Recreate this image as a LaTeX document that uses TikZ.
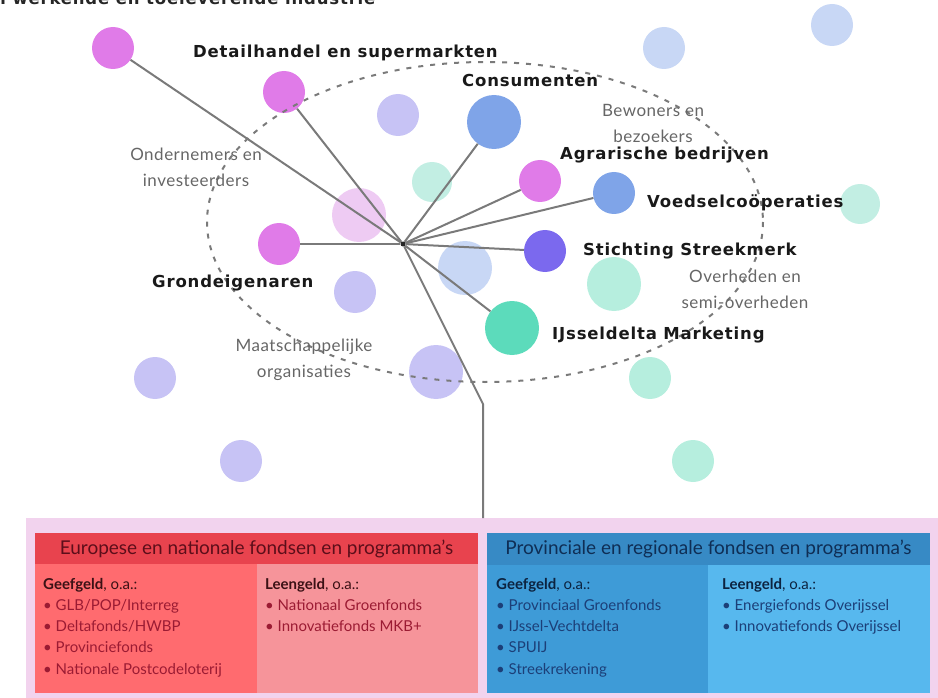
\documentclass[tikz,border=0pt]{standalone}
\usepackage{fontspec}
\setmainfont{Lato}
\newfontfamily\lblfont{DejaVu Sans}[LetterSpace=5]
\newfontfamily\grpfont{Lato}[LetterSpace=3]
\definecolor{cMag}{HTML}{E07BE8}
\definecolor{cLav}{HTML}{C7C3F5}
\definecolor{cBlue}{HTML}{7FA4E8}
\definecolor{cPaleBlue}{HTML}{C8D7F5}
\definecolor{cMintPale}{HTML}{C2EEE3}
\definecolor{cMint}{HTML}{B6EEDE}
\definecolor{cPink}{HTML}{EECBF3}
\definecolor{cPurple}{HTML}{7B69EE}
\definecolor{cGreen}{HTML}{5CDBBB}
\definecolor{cLine}{HTML}{7A7A7A}
\definecolor{cPanel}{HTML}{F2D3EE}
\definecolor{rHead}{HTML}{E8434E}
\definecolor{rLeft}{HTML}{FF6B6F}
\definecolor{rRight}{HTML}{F6949A}
\definecolor{rHeadTxt}{HTML}{5C0E1A}
\definecolor{rItem}{HTML}{9B1B33}
\definecolor{rSub}{HTML}{3B1115}
\definecolor{bHead}{HTML}{378AC5}
\definecolor{bLeft}{HTML}{3E9BD7}
\definecolor{bRight}{HTML}{57B8EE}
\definecolor{bHeadTxt}{HTML}{0F2E55}
\definecolor{bItem}{HTML}{1C3F78}
\definecolor{bSub}{HTML}{0C2340}
\tikzset{
  bub/.style={circle,inner sep=0pt,minimum size=42pt,fill=#1},
  bubL/.style={circle,inner sep=0pt,minimum size=54pt,fill=#1},
  link/.style={draw=cLine,line width=2pt},
  lbl/.style={font=\lblfont\bfseries\fontsize{16.5}{20}\selectfont,text=black!90,inner sep=0pt,anchor=west},
  grp/.style={font=\grpfont\fontsize{17}{26}\selectfont,text=black!60,align=center,inner sep=0pt},
  boxhead/.style={font=\fontsize{19}{22}\selectfont,inner sep=0pt},
  boxlist/.style={font=\fontsize{15}{21.2}\selectfont,align=left,inner sep=0pt,anchor=north west},
  zone/.style={draw=none,inner sep=0pt,outer sep=0pt}
}
\begin{document}
\begin{tikzpicture}[x=1pt,y=-1pt]
\useasboundingbox (0,0) rectangle (938,698);
\clip (0,0) rectangle (938,698);
% cut-off title
\node[anchor=base west,inner sep=0pt,font=\lblfont\bfseries\fontsize{16.5}{20}\selectfont,text=black!85] (title) at (-6,5) {n werkende en toeleverende industrie};
% bubbles
\node[bub=cMag] (c1) at (113,48) {};
\node[bub=cMag] (c2) at (284,92) {};
\node[bub=cLav] (c3) at (398,115) {};
\node[bubL=cBlue] (c4) at (494,122) {};
\node[bub=cMintPale,minimum size=40pt] (c5) at (432,182) {};
\node[bubL=cPink] (c6) at (359,215) {};
\node[bub=cMag] (c7) at (279,244) {};
\node[bub=cMag] (c8) at (540,181) {};
\node[bub=cBlue] (c9) at (614,193) {};
\node[bub=cMintPale,minimum size=40pt] (c10) at (860,204) {};
\node[bub=cPurple] (c11) at (545,251) {};
\node[bubL=cPaleBlue] (c12) at (465,268) {};
\node[bubL=cMint] (c13) at (614,284) {};
\node[bub=cLav] (c14) at (355,292) {};
\node[bubL=cGreen] (c15) at (512,328) {};
\node[bubL=cLav] (c16) at (436,372) {};
\node[bub=cLav] (c17) at (155,378) {};
\node[bub=cMint] (c18) at (650,378) {};
\node[bub=cLav] (c19) at (241,461) {};
\node[bub=cMint] (c20) at (693,461) {};
\node[bub=cPaleBlue] (c21) at (664,48) {};
\node[bub=cPaleBlue] (c22) at (832,25) {};
% dashed ellipse
\draw[cLine,line width=2pt,dash pattern=on 5pt off 7pt] (485,222) ellipse [x radius=278,y radius=160];
% panel
\node[zone,fill=cPanel,minimum width=920pt,minimum height=185pt,anchor=north west] (panel) at (26,518) {};
% hub and links
\node[circle,fill=black!85,inner sep=0pt,minimum size=5pt] (hub) at (403,244) {};
\coordinate (bend) at (483,404);
\foreach \c in {c1,c2,c4,c7,c8,c9,c11,c15}{\draw[link] (hub) -- (\c);}
\draw[link] (hub) -- (bend) -- (bend |- panel.north);
% labels
\node[lbl] (l2) at (193,53) {Detailhandel en supermarkten};
\node[lbl] (l4) at (462,80) {Consumenten};
\node[lbl] (l8) at (560,155) {Agrarische bedrijven};
\node[lbl] (l9) at (647,203) {Voedselcoöperaties};
\node[lbl] (l11) at (583,251) {Stichting Streekmerk};
\node[lbl] (l7) at (152,283) {Grondeigenaren};
\node[lbl] (l15) at (552,335) {IJsseldelta Marketing};
% group labels
\node[grp] (g1) at (196,167) {Ondernemers en\\investeerders};
\node[grp] (g2) at (653,123) {Bewoners en\\bezoekers};
\node[grp] (g3) at (745,289) {Overheden en\\semi-overheden};
\node[grp] (g4) at (304,360) {Maatschappelijke\\organisaties};
% red block
\node[zone,fill=rHead,minimum width=443pt,minimum height=31pt,anchor=north west] (rh) at (35,533) {};
\node[zone,fill=rLeft,minimum width=222pt,minimum height=129pt,anchor=north west] (rl) at (35,564) {};
\node[zone,fill=rRight,minimum width=221pt,minimum height=129pt,anchor=north west] (rr) at (257,564) {};
\node[boxhead,text=rHeadTxt] (rht) at (rh.center) {Europese en nationale fondsen en programma's};
\node[boxlist,text=rItem] (rlt) at (43,578) {{\color{rSub}\textbf{Geefgeld}, o.a.:}\\• GLB/POP/Interreg\\• Deltafonds/HWBP\\• Provinciefonds\\• Nationale Postcodeloterij};
\node[boxlist,text=rItem] (rrt) at (265,578) {{\color{rSub}\textbf{Leengeld}, o.a.:}\\• Nationaal Groenfonds\\• Innovatiefonds MKB+};
% blue block
\node[zone,fill=bHead,minimum width=443pt,minimum height=32pt,anchor=north west] (bh) at (487,533) {};
\node[zone,fill=bLeft,minimum width=221pt,minimum height=128pt,anchor=north west] (bl) at (487,565) {};
\node[zone,fill=bRight,minimum width=222pt,minimum height=128pt,anchor=north west] (br) at (708,565) {};
\node[boxhead,text=bHeadTxt] (bht) at (bh.center) {Provinciale en regionale fondsen en programma's};
\node[boxlist,text=bItem] (blt) at (496,578) {{\color{bSub}\textbf{Geefgeld}, o.a.:}\\• Provinciaal Groenfonds\\• IJssel-Vechtdelta\\• SPUIJ\\• Streekrekening};
\node[boxlist,text=bItem] (brt) at (722,578) {{\color{bSub}\textbf{Leengeld}, o.a.:}\\• Energiefonds Overijssel\\• Innovatiefonds Overijssel};
\end{tikzpicture}
\end{document}
